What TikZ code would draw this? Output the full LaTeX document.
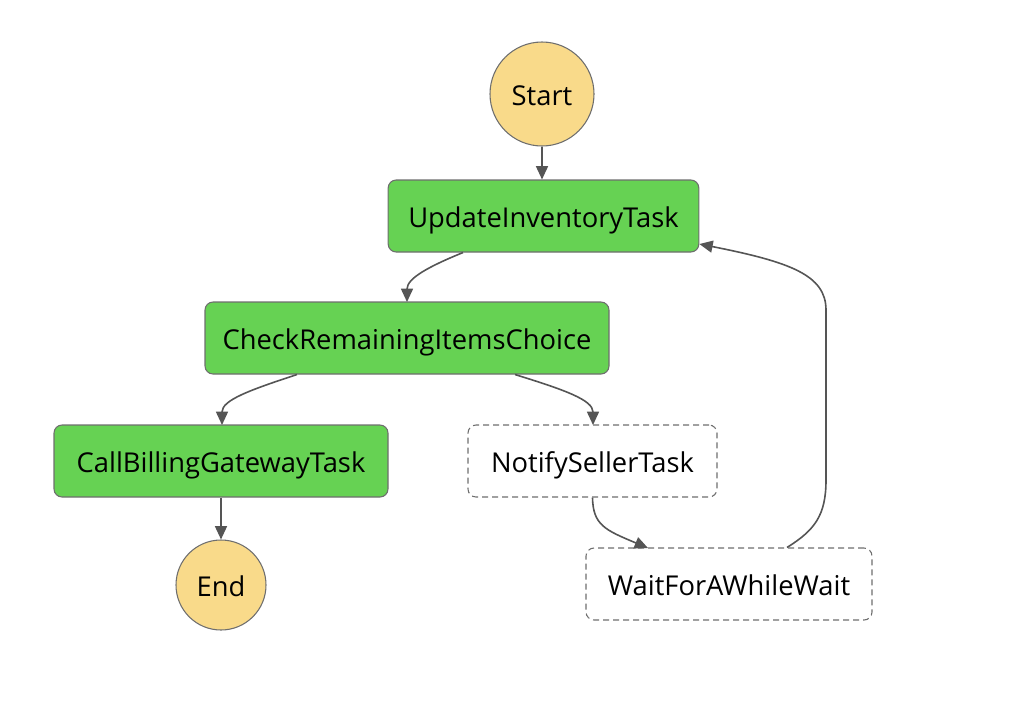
\documentclass[tikz,border=0pt]{standalone}
\usepackage{fontspec}
\setmainfont{Open Sans}
\usetikzlibrary{arrows.meta,calc}
\definecolor{taskgreen}{HTML}{66D253}
\definecolor{termyellow}{HTML}{F9DA8A}
\definecolor{edgegray}{HTML}{555555}
\definecolor{bordergray}{HTML}{6E6E6E}
\tikzset{
  x=0.75pt, y=-0.75pt,
  lbl/.style={font=\fontsize{20.5}{24}\selectfont, text=black, text height=17pt, text depth=0pt},
  taskbox/.style={lbl, draw=bordergray, line width=0.8pt, fill=taskgreen, rounded corners=6pt, inner sep=0pt},
  dashbox/.style={lbl, draw=bordergray, line width=0.8pt, dash pattern=on 4.5pt off 3pt, fill=white, rounded corners=6pt, inner sep=0pt},
  term/.style={lbl, draw=bordergray, line width=0.8pt, fill=termyellow, circle, inner sep=0pt},
  flow/.style={draw=edgegray, line width=1.2pt, -{Triangle[length=10pt,width=9pt]}},
}
\begin{document}
\begin{tikzpicture}
\useasboundingbox (0,0) rectangle (1018,704);
\node[term, minimum size=78pt] (start) at (542,94) {Start};
\node[taskbox, minimum width=233pt, minimum height=54pt] (upd) at (543.5,216) {UpdateInventoryTask};
\node[taskbox, minimum width=303pt, minimum height=54pt] (chk) at (407,338) {CheckRemainingItemsChoice};
\node[taskbox, minimum width=250.5pt, minimum height=54pt] (bill) at (221,461) {CallBillingGatewayTask};
\node[dashbox, minimum width=186.75pt, minimum height=54pt] (notify) at (592.5,461) {NotifySellerTask};
\node[dashbox, minimum width=214.5pt, minimum height=54pt] (wait) at (729,584) {WaitForAWhileWait};
\node[term, minimum size=67.5pt] (end) at (221,585) {End};

\draw[flow] (start.south) -- (start.south |- upd.north);
\draw[flow] ($(upd.south)+(-80.5,0)$) .. controls (430,266) and (407,278) .. (407,302);
\draw[flow] ($(chk.south)+(-110,0)$) .. controls (250,390) and (222,400) .. (222,425);
\draw[flow] ($(chk.south)+(108,0)$) .. controls (565,390) and (593,400) .. (593,425);
\draw[flow] (bill.south) -- (end.north);
\draw[flow] (notify.south) .. controls (593,525) and (605,530) .. (648,548);
\draw[flow] ($(wait.north)+(58,0)$) .. controls (815,530) and (826,515) .. (826,480) -- (826,310) .. controls (826,275) and (790,262) .. ($(upd.east)+(0,28)$);
\end{tikzpicture}
\end{document}
